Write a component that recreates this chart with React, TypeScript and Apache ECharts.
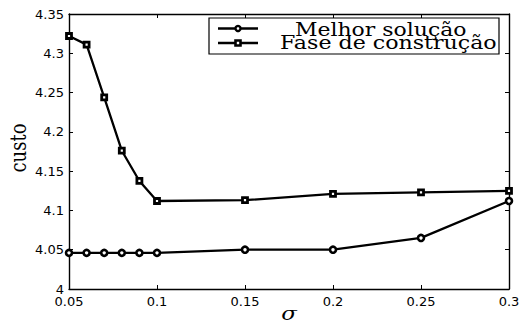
import React, { useEffect, useRef } from "react";
import * as echarts from "echarts";

// σ values on the horizontal axis
const sigma = [0.05, 0.06, 0.07, 0.08, 0.09, 0.1, 0.15, 0.2, 0.25, 0.3];
// cost of the best solution found
const melhorSolucao = [4.046, 4.046, 4.046, 4.046, 4.046, 4.046, 4.05, 4.05, 4.065, 4.112];
// cost after the construction phase
const faseConstrucao = [4.322, 4.311, 4.244, 4.176, 4.1375, 4.112, 4.113, 4.121, 4.123, 4.125];

const seriesNames = ["Melhor solução", "Fase de construção"];
const xLabel = "σ";
const yLabel = "custo";

const X_MIN = 0.05;
const X_MAX = 0.3;
const X_STEP = 0.05;
const Y_MIN = 4;
const Y_MAX = 4.35;
const Y_STEP = 0.05;

const SERIF = "'DejaVu Serif', 'Liberation Serif', serif";
const SANS = "'DejaVu Sans', 'Liberation Sans', sans-serif";

export default function App() {
  const ref = useRef<HTMLDivElement>(null);

  useEffect(() => {
    if (!ref.current) return;
    const chart = echarts.init(ref.current, undefined, { renderer: "svg" });

    const axisCommon = {
      axisLine: { show: true, onZero: false, lineStyle: { color: "#000", width: 1.4 } },
      axisTick: { show: true, inside: true, length: 4, lineStyle: { color: "#000", width: 1 } },
      splitLine: { show: false },
    };

    const legendX = 209;
    const legendY = 18;
    const rowY = [28.5, 43];

    chart.setOption({
      animation: false,
      backgroundColor: "#fff",
      grid: {
        left: 69,
        right: 14,
        top: 14,
        bottom: 36,
        containLabel: false,
        outerBoundsMode: "none",
      },
      xAxis: [
        {
          type: "value",
          min: X_MIN,
          max: X_MAX,
          interval: X_STEP,
          position: "bottom",
          ...axisCommon,
          axisLabel: {
            color: "#000",
            fontFamily: SANS,
            fontSize: 13,
            margin: 6,
            showMinLabel: true,
            showMaxLabel: true,
          },
        },
        {
          type: "value",
          min: X_MIN,
          max: X_MAX,
          interval: X_STEP,
          position: "top",
          ...axisCommon,
          axisLabel: { show: false },
        },
      ],
      yAxis: [
        {
          type: "value",
          min: Y_MIN,
          max: Y_MAX,
          interval: Y_STEP,
          position: "left",
          ...axisCommon,
          axisLabel: {
            color: "#000",
            fontFamily: SANS,
            fontSize: 13,
            margin: 5,
            showMinLabel: true,
            showMaxLabel: true,
          },
        },
        {
          type: "value",
          min: Y_MIN,
          max: Y_MAX,
          interval: Y_STEP,
          position: "right",
          ...axisCommon,
          axisLabel: { show: false },
        },
      ],
      series: [
        {
          name: seriesNames[0],
          type: "line",
          xAxisIndex: 0,
          yAxisIndex: 0,
          data: sigma.map((s, i) => [s, melhorSolucao[i]]),
          symbol: "circle",
          symbolSize: 6,
          lineStyle: { color: "#000", width: 2.3 },
          itemStyle: { color: "#fff", borderColor: "#000", borderWidth: 2.6 },
        },
        {
          name: seriesNames[1],
          type: "line",
          xAxisIndex: 0,
          yAxisIndex: 0,
          data: sigma.map((s, i) => [s, faseConstrucao[i]]),
          symbol: "rect",
          symbolSize: 5,
          lineStyle: { color: "#000", width: 2.3 },
          itemStyle: { color: "#fff", borderColor: "#000", borderWidth: 2.8 },
        },
      ],
      graphic: [
        // legend box
        {
          type: "rect",
          shape: { x: legendX, y: legendY, width: 290, height: 36 },
          style: { fill: "#fff", stroke: "#000", lineWidth: 1.2 },
          z: 10,
        },
        {
          type: "line",
          shape: { x1: 218, y1: rowY[0], x2: 258, y2: rowY[0] },
          style: { stroke: "#000", lineWidth: 2.3 },
          z: 11,
        },
        {
          type: "circle",
          shape: { cx: 238, cy: rowY[0], r: 2.5 },
          style: { fill: "#fff", stroke: "#000", lineWidth: 2.4 },
          z: 12,
        },
        {
          type: "line",
          shape: { x1: 218, y1: rowY[1], x2: 258, y2: rowY[1] },
          style: { stroke: "#000", lineWidth: 2.3 },
          z: 11,
        },
        {
          type: "rect",
          shape: { x: 235.5, y: rowY[1] - 2.5, width: 5, height: 5 },
          style: { fill: "#fff", stroke: "#000", lineWidth: 2.6 },
          z: 12,
        },
        {
          type: "text",
          x: 295,
          y: 30,
          scaleX: 1.22,
          style: {
            text: seriesNames[0],
            fontFamily: SERIF,
            fontSize: 18,
            fill: "#000",
            verticalAlign: "middle",
            align: "left",
          },
          z: 12,
        },
        {
          type: "text",
          x: 280,
          y: 43,
          scaleX: 1.23,
          style: {
            text: seriesNames[1],
            fontFamily: SERIF,
            fontSize: 18,
            fill: "#000",
            verticalAlign: "middle",
            align: "left",
          },
          z: 12,
        },
        // axis titles
        {
          type: "text",
          x: 18,
          y: 148,
          rotation: Math.PI / 2,
          scaleY: 1.25,
          style: {
            text: yLabel,
            fontFamily: SERIF,
            fontSize: 18,
            fill: "#000",
            align: "center",
            verticalAlign: "middle",
          },
        },
        {
          type: "text",
          x: 289,
          y: 314,
          scaleX: 1.2,
          style: {
            text: xLabel,
            fontFamily: SERIF,
            fontStyle: "italic",
            fontSize: 19,
            fill: "#000",
            align: "center",
            verticalAlign: "middle",
          },
        },
      ],
    });

    return () => chart.dispose();
  }, []);

  return (
    <div
      ref={ref}
      style={{ position: "fixed", left: 0, top: 0, width: 523, height: 325, background: "#fff" }}
    />
  );
}
